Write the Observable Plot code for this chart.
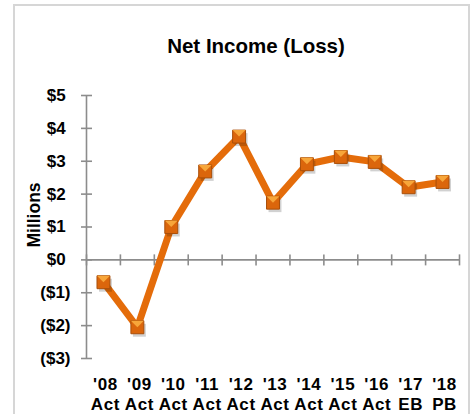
<!DOCTYPE html>
<html>
<head>
<meta charset="utf-8">
<script src="https://cdn.jsdelivr.net/npm/d3@7"></script>
<script src="https://cdn.jsdelivr.net/npm/@observablehq/plot@0.6"></script>
<style>
  html, body { margin: 0; padding: 0; background: #fff; }
  #wrap { position: relative; width: 474px; height: 414px; overflow: hidden; font-family: "Liberation Sans", Arial, sans-serif; }
  #frame { position: absolute; left: 13px; top: 4px; width: 457px; height: 430px; border: 2px solid #d6d6d6; box-sizing: border-box; }
  #chart { position: absolute; left: 0; top: 0; }
  #chart g[aria-label="x-axis tick label"] text { letter-spacing: 0.6px; }
</style>
</head>
<body>
<div id="wrap"><div id="frame"></div><div id="chart"></div></div>
<script>
const years = ["'08", "'09", "'10", "'11", "'12", "'13", "'14", "'15", "'16", "'17", "'18"];
const kinds = ["Act", "Act", "Act", "Act", "Act", "Act", "Act", "Act", "Act", "EB", "PB"];
const netIncome = [-0.68, -2.05, 1.0, 2.69, 3.75, 1.74, 2.91, 3.13, 2.98, 2.21, 2.37];
const yTicks = [-3, -2, -1, 0, 1, 2, 3, 4, 5];
const title = "Net Income (Loss)";
const yLabel = "Millions";

const data = years.map((y, i) => ({i, value: netIncome[i]}));
const boundaries = d3.range(years.length + 1).map(k => k - 0.5);

const vtick = {draw(ctx) { ctx.moveTo(0, -5.5); ctx.lineTo(0, 5.5); }};
const htick = {draw(ctx) { ctx.moveTo(-5.5, 0); ctx.lineTo(5.5, 0); }};
const topFacet = {draw(ctx, size) { const s = Math.sqrt(size) / 2; ctx.moveTo(-s, -s); ctx.lineTo(s, -s); ctx.lineTo(0, 0); ctx.closePath(); }};

const fmt = v => v < 0 ? `($${Math.abs(v)})` : `$${v}\u2008`;
const axisColor = "#8c8c8c";

const chart = Plot.plot({
  width: 474,
  height: 414,
  marginLeft: 86,
  marginRight: 15,
  marginTop: 95,
  marginBottom: 56,
  style: {fontFamily: "'Liberation Sans', Arial, sans-serif", color: "#000", background: "transparent", overflow: "visible"},
  x: {type: "linear", domain: [-0.5, years.length - 0.5], axis: null},
  y: {domain: [-3, 5], axis: null},
  marks: [
    Plot.ruleY([0], {stroke: axisColor, strokeWidth: 1.6}),
    Plot.ruleX([-0.5], {stroke: axisColor, strokeWidth: 1.6}),
    Plot.dot(boundaries, {x: d => d, y: 0, symbol: vtick, stroke: axisColor, strokeWidth: 1.6, r: 5}),
    Plot.dot(yTicks, {x: -0.5, y: d => d, symbol: htick, stroke: axisColor, strokeWidth: 1.6, r: 5}),
    Plot.axisY(yTicks, {label: null, tickSize: 0, tickPadding: 16, tickFormat: fmt, fontSize: 17, fontWeight: "bold", textAnchor: "end"}),
    Plot.axisX(d3.range(years.length), {label: null, anchor: "bottom", tickSize: 0, tickPadding: 17, tickFormat: i => years[i] + "\n" + kinds[i], lineHeight: 1.2, fontSize: 17, fontWeight: "bold", dx: 2}),
    Plot.text([yLabel], {frameAnchor: "left", textAnchor: "middle", rotate: -90, dx: -52, dy: -12, fontSize: 17.5, fontWeight: "bold", fill: "#000"}),
    Plot.text([title], {frameAnchor: "top", dx: -17, dy: -57, fontSize: 20.5, fontWeight: "bold", fill: "#000"}),
    Plot.line(data, {x: "i", y: "value", stroke: "#E46C0A", strokeWidth: 7, strokeLinejoin: "miter"}),
    Plot.dot(data, {x: "i", y: "value", symbol: "square", r: 7.3, fill: "#000", fillOpacity: 0.18, dx: 2, dy: 3}),
    Plot.dot(data, {x: "i", y: "value", symbol: "square", r: 7.3, fill: "#DB660C", stroke: "#A94F0A", strokeWidth: 1}),
    Plot.dot(data, {x: "i", y: "value", symbol: topFacet, r: 7.3, fill: "#F7A63A", stroke: "none"})
  ]
});
document.getElementById("chart").appendChild(chart);
</script>
</body>
</html>
